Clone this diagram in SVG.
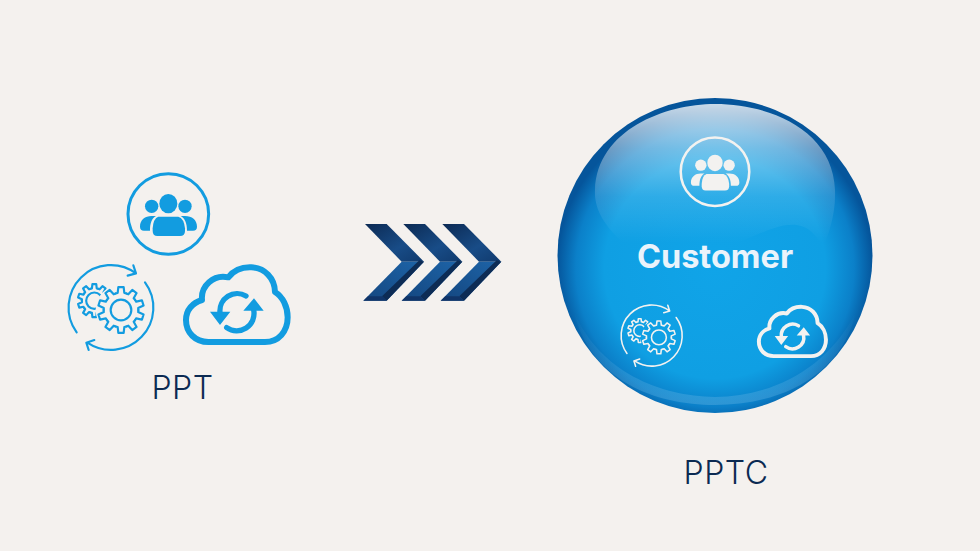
<svg xmlns="http://www.w3.org/2000/svg" xmlns:xlink="http://www.w3.org/1999/xlink" width="980" height="551" viewBox="0 0 980 551">
<style>
.blue{color:#129ce0}
.white{color:#f3f2f0}
.line{fill:none;stroke:currentColor;stroke-linecap:round;stroke-linejoin:round}
.solid{fill:currentColor}
.label{font-family:Inter,"Open Sans",sans-serif;font-size:32px;font-weight:300;letter-spacing:.5px;fill:#0b2a52;text-anchor:middle}
.title{font-family:Inter,"Liberation Sans",sans-serif;font-size:32.5px;font-weight:700;fill:#eaf3fb;text-anchor:middle}
</style>
<defs>
<radialGradient id="ball" gradientUnits="userSpaceOnUse" cx="715" cy="268" r="158">
<stop offset="0" stop-color="#10a4e8"/><stop offset=".7" stop-color="#0f9fe3"/><stop offset=".88" stop-color="#0b80c9"/><stop offset="1" stop-color="#05559b"/>
</radialGradient>
<linearGradient id="gloss" x1="0" y1="0" x2="0" y2="1">
<stop offset="0" stop-color="#fff" stop-opacity=".78"/><stop offset=".29" stop-color="#fff" stop-opacity=".42"/><stop offset=".6" stop-color="#fff" stop-opacity=".13"/><stop offset=".9" stop-color="#fff" stop-opacity="0"/>
</linearGradient>
<linearGradient id="band" x1="0" y1="0" x2="0" y2="1">
<stop offset="0" stop-color="#6bb8e6" stop-opacity="0"/><stop offset="1" stop-color="#6bb8e6" stop-opacity=".36"/>
</linearGradient>
<linearGradient id="armTop" x1="0" y1="0" x2="1" y2="1">
<stop offset="0" stop-color="#0c2a53"/><stop offset=".6" stop-color="#184c87"/><stop offset="1" stop-color="#103a6d"/>
</linearGradient>
<linearGradient id="armLow" x1="1" y1="0" x2="0" y2="1">
<stop offset="0" stop-color="#1d64a8"/><stop offset="1" stop-color="#14467f"/>
</linearGradient>
<clipPath id="offBig"><path clip-rule="evenodd" d="M60 290H320V540H60ZM213 450m-76 0a76 76 0 1 0 152 0a76 76 0 1 0-152 0Z"/></clipPath>
<path id="tooth" d="M-16.1-49.5L-10-51L-8-68.6L8-68.6L10-51L16.1-49.5"/>
<g id="gear">
<use xlink:href="#tooth"/><use xlink:href="#tooth" transform="rotate(36)"/><use xlink:href="#tooth" transform="rotate(72)"/><use xlink:href="#tooth" transform="rotate(108)"/><use xlink:href="#tooth" transform="rotate(144)"/><use xlink:href="#tooth" transform="rotate(180)"/><use xlink:href="#tooth" transform="rotate(216)"/><use xlink:href="#tooth" transform="rotate(252)"/><use xlink:href="#tooth" transform="rotate(288)"/><use xlink:href="#tooth" transform="rotate(324)"/>
</g>
<g id="people">
<circle class="line" cx="355" cy="162" r="121" stroke-width="9"/>
<g class="solid">
<ellipse cx="355" cy="131" rx="27" ry="29"/><circle cx="305" cy="139" r="20"/><circle cx="405" cy="139" r="20"/>
<path d="M325 170H385Q402 175 405 205V213Q405 228 390 228H322Q308 228 308 213V205Q310 175 325 170Z"/>
<path d="M270 200C270 180 285 168 305 168H318C305 175 300 190 300 212H282Q270 212 270 200Z"/>
<path d="M441 200C441 180 426 168 405 168H392C405 175 411 190 411 212H429Q441 212 441 200Z"/>
</g>
</g>
<g id="gears" class="line" stroke-width="6.5">
<path d="M80 517A127 127 0 0 1 258 340M250 316L258 340L233 347M285 367A127 127 0 0 1 112 548M133 540L109 548L116 570"/>
<g clip-path="url(#offBig)"><g transform="translate(133 422) scale(.72)" stroke-width="9"><use xlink:href="#gear"/><circle r="34"/></g></g>
<g transform="translate(213 450)"><use xlink:href="#gear"/><circle r="31"/></g>
</g>
<g id="cloud">
<path class="line" stroke-width="18" d="M475 546C436 546 408 518 408 480C408 450 428 428 456 420C452 378 490 342 535 352C552 330 578 321 604 322C644 324 674 354 675 396C698 410 713 440 713 472C713 514 686 546 645 546Z"/>
<path class="line" stroke-width="16" stroke-linecap="butt" d="M588 408A52 52 0 0 0 510 458M530 503A52 52 0 0 0 611 450"/>
<path class="solid" d="M480 455H541L510 495ZM580 452H641L612 415Z"/>
</g>
<g id="chev">
<polygon points="45,42 110,42 222,155 155,155" fill="url(#armTop)"/>
<polygon points="155,155 222,155 110,272 40,272" fill="url(#armLow)"/>
<polygon points="208,151 222,155 110,272 96,259" fill="#0d2c55"/>
<polygon points="54,259 96,259 110,272 40,272" fill="#103468"/>
</g>
</defs>
<rect width="980" height="551" fill="#f4f1ee"/>
<g id="ppt" class="blue" transform="translate(50 160) scale(.33333)">
<use xlink:href="#people"/><use xlink:href="#gears"/><use xlink:href="#cloud"/>
</g>
<text class="label" x="182.500" y="399">PPT</text>
<g id="connectors" transform="translate(350 210) scale(.33333)">
<use xlink:href="#chev"/><use xlink:href="#chev" x="115"/><use xlink:href="#chev" x="232"/>
</g>
<g id="pptc">
<circle cx="715" cy="255.500" r="157.500" fill="url(#ball)"/>
<path d="M595 190C597 130 665 104 715 104C770 104 833 130 835 190C836 215 828 235 823 248C800 200 760 240 715 250C670 262 630 262 620 240C605 225 594 210 595 190Z" fill="url(#gloss)"/>
<path d="M574 312C600 372 660 396 715 397C770 396 825 372 856 312C840 380 775 405 715 405C655 405 590 380 574 312Z" fill="url(#band)"/>
<g class="white">
<g transform="translate(715 171.700) scale(.2833) translate(-355 -162)"><use xlink:href="#people"/></g>
<g transform="translate(651.700 335.700) scale(.24) translate(-183 -443)"><use xlink:href="#gears"/></g>
<g transform="translate(792.300 331.500) scale(.22) translate(-560 -434)"><use xlink:href="#cloud"/></g>
</g>
<text class="title" x="715" y="268">Customer</text>
</g>
<text class="label" x="726" y="484">PPTC</text>
</svg>
